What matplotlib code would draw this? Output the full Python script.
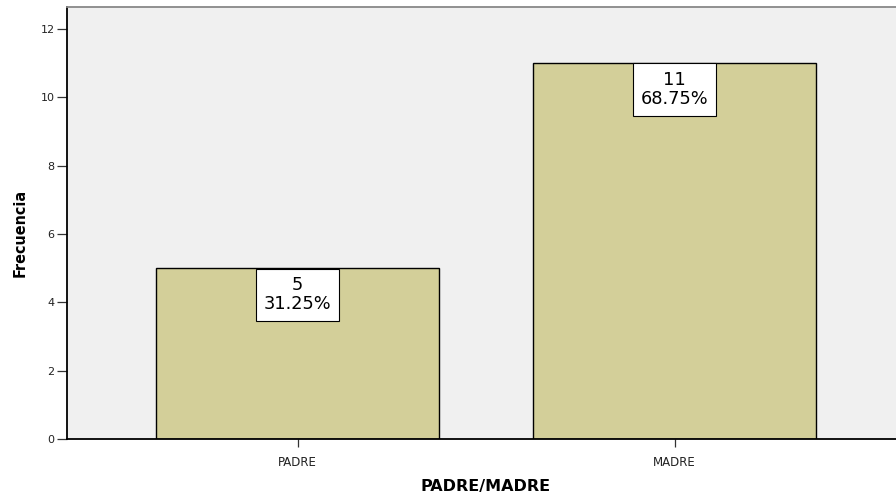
import matplotlib.pyplot as plt

categorias = ['PADRE', 'MADRE']
frecuencias = [5, 11]
porcentajes = ['31.25%', '68.75%']
yticks = [0, 2, 4, 6, 8, 10, 12]

plt.rcParams['font.family'] = ['DejaVu Sans']

fig = plt.figure(figsize=(8.96, 4.95), dpi=100)
# plot area: x 67..896 px, y 7..439 px
ax = fig.add_axes([67 / 896, 1 - 439 / 495, (896 - 67) / 896, (439 - 7) / 495])
ax.set_facecolor('#f0f0f0')

x = list(range(len(categorias)))
ax.bar(x, frecuencias, width=0.75, color='#d3cf99', edgecolor='black', linewidth=1.0, zorder=2)

pad = 0.42
fs = 12.8
for xi, v, p in zip(x, frecuencias, porcentajes):
    ax.annotate('%d\n%s' % (v, p), xy=(xi, v), xytext=(0, -pad * fs - 0.3), textcoords='offset points',
                ha='center', va='top', fontsize=fs, linespacing=1.1, zorder=3,
                bbox=dict(boxstyle='square,pad=%s' % pad, facecolor='white', edgecolor='black', linewidth=0.8))

ax.set_xlim(-0.612, 1.587)
ax.set_ylim(0, 12.64)
ax.set_xticks(x)
ax.set_xticklabels(categorias, fontsize=8.5, color='#222222')
ax.set_yticks(yticks)
ax.set_yticklabels([str(t) for t in yticks], fontsize=8, color='#222222')
ax.tick_params(axis='y', direction='out', length=7, width=0.9, color='#333333', pad=2)
ax.tick_params(axis='x', direction='out', length=6, width=0.9, color='#333333', pad=6)

ax.spines['left'].set_linewidth(1.3)
ax.spines['bottom'].set_linewidth(1.3)
ax.spines['top'].set_color('#888888')
ax.spines['top'].set_linewidth(1.3)
ax.spines['right'].set_visible(False)

ax.set_ylabel('Frecuencia', fontsize=11.5, fontweight='bold', fontstretch='condensed')
ax.yaxis.set_label_coords(-0.0567, 0.477)
ax.yaxis.label.set_va('center')
ax.set_xlabel('PADRE/MADRE', fontsize=11.5, fontweight='bold')
ax.xaxis.set_label_coords(0.505, -0.111)
ax.xaxis.label.set_va('center')

fig.savefig('out.png', dpi=100)
